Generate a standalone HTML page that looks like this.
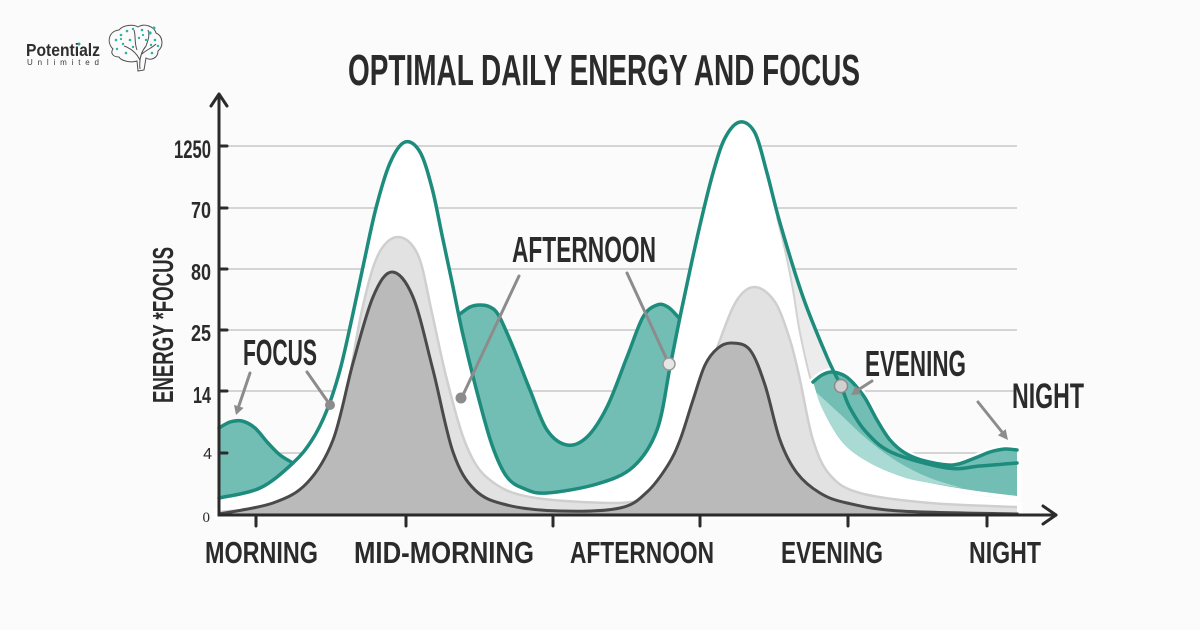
<!DOCTYPE html>
<html><head><meta charset="utf-8"><style>
html,body{margin:0;padding:0;background:#fbfbfb;}
svg{display:block;}
text{font-family:"Liberation Sans Narrow","Liberation Sans",sans-serif;font-weight:bold;fill:#2b2b2b;}
</style></head><body>
<svg width="1200" height="630" viewBox="0 0 1200 630" xmlns="http://www.w3.org/2000/svg">
<rect x="0" y="0" width="1200" height="630" fill="#fbfbfb"/>

<!-- logo -->
<text x="26" y="56" font-size="17.5" textLength="74" lengthAdjust="spacingAndGlyphs" style="font-family:'Liberation Sans',sans-serif;fill:#2e2e2e">Potentialz</text>
<circle cx="79" cy="44" r="1.5" fill="#27a89a"/>
<text x="27" y="65" font-size="8" textLength="72" lengthAdjust="spacing" style="font-family:'Liberation Sans',sans-serif;font-weight:normal;fill:#3a3a3a">Unlimited</text>
<g fill="none" stroke="#4e4e4e" stroke-width="1">
<path d="M113,49 C106,42 109,31 119,30 C123,25 133,24 138,27 C144,23 154,26 156,33 C163,36 164,46 158,51 C158,58 151,61 146,58 L144,70 L138,71 L137,61 C131,63 121,61 119,57 C113,57 110,53 113,49 Z"/>
<path d="M140,69 C139,60 141,52 146,46 M140,60 C136,52 130,48 124,46 M142,54 C146,50 152,48 156,44 M137,50 C134,42 136,36 134,30 M146,46 C148,40 150,36 148,30"/>
</g>
<g fill="#2bb3a6">
<circle cx="116" cy="40" r="1.3"/><circle cx="121" cy="35" r="1.3"/><circle cx="127" cy="31" r="1.3"/><circle cx="133" cy="29" r="1.2"/><circle cx="142" cy="30" r="1.3"/><circle cx="150" cy="33" r="1.6"/><circle cx="155" cy="40" r="1.3"/><circle cx="158" cy="46" r="1.2"/><circle cx="152" cy="53" r="1.3"/><circle cx="146" cy="40" r="1.2"/><circle cx="139" cy="38" r="1.2"/><circle cx="130" cy="40" r="1.3"/><circle cx="123" cy="44" r="1.2"/><circle cx="117" cy="49" r="1.2"/><circle cx="126" cy="53" r="1.3"/><circle cx="133" cy="47" r="1.2"/><circle cx="151" cy="45" r="1.2"/><circle cx="143" cy="35" r="1.1"/><circle cx="121" cy="39" r="1.1"/><circle cx="154" cy="28" r="1.5"/>
</g>

<!-- title -->
<text x="348" y="85" font-size="44" textLength="512" lengthAdjust="spacingAndGlyphs">OPTIMAL DAILY ENERGY AND FOCUS</text>

<!-- gridlines -->
<g stroke="#d5d5d5" stroke-width="2">
<line x1="222" y1="146" x2="1017" y2="146"/>
<line x1="222" y1="208" x2="1017" y2="208"/>
<line x1="222" y1="269" x2="1017" y2="269"/>
<line x1="222" y1="330" x2="1017" y2="330"/>
<line x1="222" y1="391" x2="1017" y2="391"/>
<line x1="222" y1="453" x2="1017" y2="453"/>
</g>

<!-- chart layers -->
<path id="whiteFill" fill="#ffffff"/>
<path id="e2" fill="#ececec"/>
<path id="e2edge" fill="none" stroke="#d2d2d2" stroke-width="2"/>
<path id="lgFill" fill="#e2e2e2" stroke="#ffffff" stroke-width="10" style="paint-order:stroke"/>
<path id="lgEdge" fill="none" stroke="#cfcfcf" stroke-width="2.5"/>
<path id="dbFill" fill="#bababa" stroke="#4a4a4a" stroke-width="3"/>
<path id="leftFill" fill="#73beb4"/>
<path id="valFill" fill="#73beb4"/>
<path id="eveFill" fill="#73beb4" stroke="#ffffff" stroke-width="8" style="paint-order:stroke"/>
<path id="eveLight" fill="#a9dad3"/>
<g fill="none" stroke="#1e8c7d" stroke-width="3.5" stroke-linecap="round">
<path id="lhLine"/>
<path id="hLine"/>
<path id="ehLine"/>
<path id="oLine"/>
</g>

<!-- axes -->
<g stroke="#2b2b2b" stroke-width="3" fill="none" stroke-linecap="round" stroke-linejoin="round">
<line x1="219" y1="515" x2="219" y2="95"/>
<polyline points="211,106 219,94 227,106"/>
<line x1="219" y1="515" x2="1056" y2="515"/>
<polyline points="1043,506 1056,515 1043,524"/>
<line x1="219" y1="146" x2="227" y2="146"/>
<line x1="219" y1="208" x2="227" y2="208"/>
<line x1="219" y1="269" x2="227" y2="269"/>
<line x1="219" y1="330" x2="227" y2="330"/>
<line x1="219" y1="391" x2="227" y2="391"/>
<line x1="219" y1="453" x2="227" y2="453"/>
<line x1="256" y1="515" x2="256" y2="526"/>
<line x1="406" y1="515" x2="406" y2="526"/>
<line x1="553" y1="515" x2="553" y2="526"/>
<line x1="700" y1="515" x2="700" y2="526"/>
<line x1="848" y1="515" x2="848" y2="526"/>
<line x1="987" y1="515" x2="987" y2="526"/>
</g>

<!-- y tick labels -->
<text x="211" y="158" font-size="25" text-anchor="end" textLength="37" lengthAdjust="spacingAndGlyphs">1250</text>
<text x="211" y="218" font-size="23" text-anchor="end" textLength="20" lengthAdjust="spacingAndGlyphs">70</text>
<text x="211" y="280" font-size="23" text-anchor="end" textLength="20" lengthAdjust="spacingAndGlyphs">80</text>
<text x="211" y="341" font-size="23" text-anchor="end" textLength="20" lengthAdjust="spacingAndGlyphs">25</text>
<text x="211" y="403" font-size="23" text-anchor="end" textLength="18" lengthAdjust="spacingAndGlyphs">14</text>
<text x="212" y="459" font-size="16" text-anchor="end" style="font-weight:normal;font-family:'Liberation Sans',sans-serif">4</text>
<text x="210" y="522" font-size="15" text-anchor="end" style="font-weight:normal;font-family:'Liberation Serif',serif">0</text>

<!-- y axis title -->
<text transform="translate(173,325) rotate(-90)" x="0" y="0" font-size="29" text-anchor="middle" textLength="156" lengthAdjust="spacingAndGlyphs">ENERGY *FOCUS</text>

<!-- x labels -->
<text x="205" y="563" font-size="31" textLength="113" lengthAdjust="spacingAndGlyphs">MORNING</text>
<text x="354" y="563" font-size="31" textLength="180" lengthAdjust="spacingAndGlyphs">MID-MORNING</text>
<text x="570" y="563" font-size="31" textLength="144" lengthAdjust="spacingAndGlyphs">AFTERNOON</text>
<text x="781" y="563" font-size="31" textLength="102" lengthAdjust="spacingAndGlyphs">EVENING</text>
<text x="969" y="563" font-size="31" textLength="72" lengthAdjust="spacingAndGlyphs">NIGHT</text>

<!-- annotations -->
<g stroke="#8c8c8c" stroke-width="3" fill="none" stroke-linecap="round">
<line x1="250" y1="373" x2="238.5" y2="407"/>
<line x1="307" y1="372" x2="328" y2="402"/>
<line x1="519" y1="276" x2="463" y2="395"/>
<line x1="627" y1="273" x2="667" y2="360"/>
<line x1="872" y1="381" x2="858" y2="390"/>
<line x1="978" y1="402" x2="1002" y2="432"/>
</g>
<g fill="#8c8c8c">
<polygon points="236,415 243.6,407.9 234,404.9"/>
<polygon points="851,395 855.7,385.8 861.3,394.2"/>
<polygon points="1008,440 997.9,435.3 1005.7,429.1"/>
<circle cx="330" cy="405" r="5"/>
<circle cx="461" cy="398" r="5.5"/>
</g>
<circle cx="669" cy="364" r="6" fill="#e6e6e6" stroke="#9a9a9a" stroke-width="1.5"/>
<circle cx="841" cy="386" r="6.5" fill="#d0d0d0" stroke="#8a8a8a" stroke-width="1.5"/>

<text x="243" y="365" font-size="36" textLength="74" lengthAdjust="spacingAndGlyphs">FOCUS</text>
<text x="512" y="262" font-size="36" textLength="144" lengthAdjust="spacingAndGlyphs">AFTERNOON</text>
<text x="865" y="376" font-size="36" textLength="101" lengthAdjust="spacingAndGlyphs">EVENING</text>
<text x="1012" y="408" font-size="35" textLength="72" lengthAdjust="spacingAndGlyphs">NIGHT</text>
</svg>

<script>
function sm(p){var d='';for(var i=0;i<p.length-1;i++){var p0=p[i-1]||p[i],p1=p[i],p2=p[i+1],p3=p[i+2]||p2;
var c1=[(p1[0]+(p2[0]-p0[0])/6).toFixed(1),(p1[1]+(p2[1]-p0[1])/6).toFixed(1)];
var c2=[(p2[0]-(p3[0]-p1[0])/6).toFixed(1),(p2[1]-(p3[1]-p1[1])/6).toFixed(1)];
d+=' C'+c1[0]+','+c1[1]+' '+c2[0]+','+c2[1]+' '+p2[0]+','+p2[1];}return d;}
function path(p){return 'M'+p[0][0]+','+p[0][1]+sm(p);}
function band(a,b){return path(a)+' L'+b[0][0]+','+b[0][1]+sm(b)+' Z';}
function set(id,d){document.getElementById(id).setAttribute('d',d);}
function rev(a){return a.slice().reverse();}

var O=[[219,498],[260,488],[293,463],[312,440],[327,410],[340,370],[352,318],[364,262],[376,208],[390,163],[405,142],[420,152],[432,188],[442,235],[452,282],[463,335],[477,392],[492,445],[507,477],[525,489],[547,493],[597,484],[633,467],[657,430],[670,367],[680,317],[690,270],[700,225],[713,173],[725,138],[740,122],[755,133],[767,173],[780,223],[803,297],[827,357],[841,386],[850,408],[867,433],[893,453],[947,468],[980,466],[1017,463]];
set('whiteFill',path(O)+' L1017,515 L219,515 Z');
set('oLine',path(O));

var G2=[[777,217],[785,250],[793,290],[800,333],[813,387],[830,420],[850,445],[880,468],[920,483],[970,493],[1017,499]];
var oTail=O.slice(O.findIndex(function(p){return p[0]===780;}));
set('e2',band(G2,rev(oTail)));
set('e2edge',path(G2));

var LG=[[219,512],[270,506],[305,490],[330,455],[347,390],[362,310],[378,255],[398,237],[418,255],[432,313],[447,380],[467,447],[490,480],[530,497],[613,503],[650,497],[675,480],[690,440],[705,385],[720,340],[737,300],[755,287],[775,302],[790,340],[800,380],[813,440],[830,475],[860,493],[930,503],[1017,507]];
set('lgFill',path(LG)+' L1017,515 L219,515 Z');
set('lgEdge',path(LG));

var DB=[[219,514],[273,503],[307,483],[333,440],[353,363],[373,297],[392,272],[413,297],[433,370],[453,452],[475,490],[507,505],[560,511],[620,508],[647,492],[668,465],[680,440],[693,400],[705,365],[718,348],[732,343],[750,350],[765,385],[780,440],[797,473],[820,493],[847,503],[900,511],[1017,514]];
set('dbFill',path(DB)+' L1017,515 L219,515 Z');

var LH=[[219,428],[230,422],[242,421],[255,428],[268,443],[280,455],[293,463]];
set('leftFill',band(LH,[[293,463],[260,488],[219,498]]));
set('lhLine',path(LH));

var H=[[460,314],[470,307],[480,305],[490,307],[499,316],[513,347],[530,390],[547,430],[567,445],[587,437],[607,407],[627,357],[643,317],[657,305],[668,307],[679,318]];
var Ob=[[680,317],[670,367],[657,430],[633,467],[597,484],[547,493],[525,489],[507,477],[492,445],[477,392],[463,335],[460,314]];
set('valFill',band(H,Ob));
set('hLine',path(H));

var EH=[[813,382],[822,375],[832,372],[845,376],[855,385],[865,398],[877,420],[890,440],[905,453],[925,461],[953,465],[975,458],[990,452],[1005,449],[1017,450]];
var EB=[[1017,496],[970,490],[930,483],[903,477],[870,463],[843,443],[823,410],[813,382]];
set('eveFill',band(EH,EB));
set('eveLight',path([[816,392],[840,414],[868,440],[898,462],[930,478],[962,488]])+' L'+'930,483'+sm([[930,483],[903,477],[870,463],[843,443],[823,410],[816,392]])+' Z');
set('ehLine',path(EH));
</script>
</body></html>
